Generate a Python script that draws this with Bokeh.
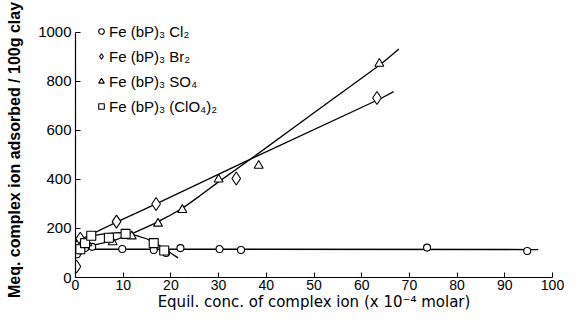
from bokeh.plotting import figure
from bokeh.models import Legend, LegendItem, Range1d, FixedTicker
from bokeh.embed import file_html
from bokeh.resources import INLINE

# ---- data ----
cl2_x = [0.3, 1, 2, 3.5, 9.8, 16.4, 19, 22, 30.2, 34.7, 73.7, 94.7]
cl2_y = [95, 110, 120, 125, 116, 112, 100, 120, 116, 112, 122, 108]
br2_x = [0.2, 0.5, 1, 8.6, 16.9, 33.7, 63.2]
br2_y = [45, 130, 158, 228, 300, 404, 732]
so4_x = [1, 2.5, 7.8, 11.8, 17.3, 22.4, 30, 38.4, 63.7]
so4_y = [125, 140, 144, 168, 220, 276, 400, 456, 872]
clo4_x = [1, 2, 3.3, 7, 10.5, 16.4, 18.6]
clo4_y = [115, 140, 170, 162, 178, 140, 110]

# fitted curves as drawn in the reference
cl2_fit_x = [0.0, 1.5, 97]
cl2_fit_y = [95, 116, 114]
br2_fit_x = [0.5, 8.6, 16.9, 36.8, 64, 66.7]
br2_fit_y = [150, 226, 300, 484, 730, 758]
so4_fit_x = [0, 4, 8, 12, 16.5, 19.5, 22.4, 26, 30, 36.8, 50, 64, 67.8]
so4_fit_y = [118, 133, 150, 180, 220, 250, 282, 332, 390, 484, 672, 870, 932]
clo4_fit_x = [0, 1.5, 3.3, 6, 9, 11, 13, 15, 17, 19, 21.5]
clo4_fit_y = [110, 145, 170, 178, 183, 180, 170, 157, 138, 112, 80]

x_ticks = [0, 10, 20, 30, 40, 50, 60, 70, 80, 90, 100]
y_ticks = [0, 200, 400, 600, 800, 1000]

labels = ["Fe (bP)\u2083 Cl\u2082", "Fe (bP)\u2083 Br\u2082",
          "Fe (bP)\u2083 SO\u2084", "Fe (bP)\u2083 (ClO\u2084)\u2082"]

FONT = "Liberation Sans"

p = figure(width=566, height=313, output_backend="svg", toolbar_location=None,
           x_range=Range1d(0, 100), y_range=Range1d(0, 1040),
           min_border_left=75, min_border_right=14, min_border_top=22,
           min_border_bottom=31)
p.outline_line_color = None
p.grid.visible = False
p.background_fill_color = "white"

for ax in (p.xaxis[0], p.yaxis[0]):
    ax.major_tick_in = 5
    ax.major_tick_out = 0
    ax.minor_tick_in = 0
    ax.minor_tick_out = 0
    ax.axis_line_color = "black"
    ax.axis_line_width = 1.2
    ax.major_tick_line_color = "black"
    ax.major_label_text_font = FONT
    ax.major_label_text_font_size = "15px"
    ax.major_label_text_color = "black"
    ax.axis_label_text_font = FONT
    ax.axis_label_text_font_size = "15px"
    ax.axis_label_text_color = "black"
    ax.axis_label_text_font_style = "normal"

p.yaxis.bounds = (0, 1000)
p.xaxis.ticker = FixedTicker(ticks=x_ticks)
p.yaxis.ticker = FixedTicker(ticks=y_ticks)
p.xaxis.major_label_standoff = 2
p.yaxis.major_label_standoff = 4
p.xaxis.major_label_text_font_size = "14px"
p.xaxis.axis_label_text_font = "DejaVu Sans"
p.xaxis.axis_label_text_font_size = "15px"
p.xaxis.axis_label = "Equil. conc. of complex ion (x 10\u207b\u2074 molar)"
p.yaxis.axis_label = "Meq. complex ion adsorbed / 100g clay"
p.yaxis.axis_label_text_font_style = "bold"
p.yaxis.axis_label_text_font_size = "16px"
p.xaxis.axis_label_standoff = 0
p.yaxis.axis_label_standoff = 12

lw = 1.3
p.line(cl2_fit_x, cl2_fit_y, line_color="black", line_width=lw)
p.line(br2_fit_x, br2_fit_y, line_color="black", line_width=lw)
p.line(so4_fit_x, so4_fit_y, line_color="black", line_width=lw)
p.line(clo4_fit_x, clo4_fit_y, line_color="black", line_width=lw)

r1 = p.scatter(cl2_x, cl2_y, marker="circle", size=7, fill_color="white",
               line_color="black", line_width=1.1)
r2 = p.scatter(br2_x, br2_y, marker="diamond", size=13, fill_color="white",
               line_color="black", line_width=1.1)
r3 = p.scatter(so4_x, so4_y, marker="triangle", size=9, fill_color="white",
               line_color="black", line_width=1.1)
r4 = p.scatter(clo4_x, clo4_y, marker="square", size=9, fill_color="white",
               line_color="black", line_width=1.1)

legend = Legend(items=[LegendItem(label=labels[0], renderers=[r1]),
                       LegendItem(label=labels[1], renderers=[r2]),
                       LegendItem(label=labels[2], renderers=[r3]),
                       LegendItem(label=labels[3], renderers=[r4])],
                location=(19, 161), orientation="vertical",
                border_line_color=None, background_fill_alpha=0,
                padding=0, margin=0, spacing=5,
                glyph_width=14, glyph_height=20, label_height=20,
                label_standoff=1,
                label_text_font=FONT, label_text_font_size="15px",
                label_text_color="black")
p.add_layout(legend, "center")

open("out.html", "w").write(file_html(p, INLINE))
